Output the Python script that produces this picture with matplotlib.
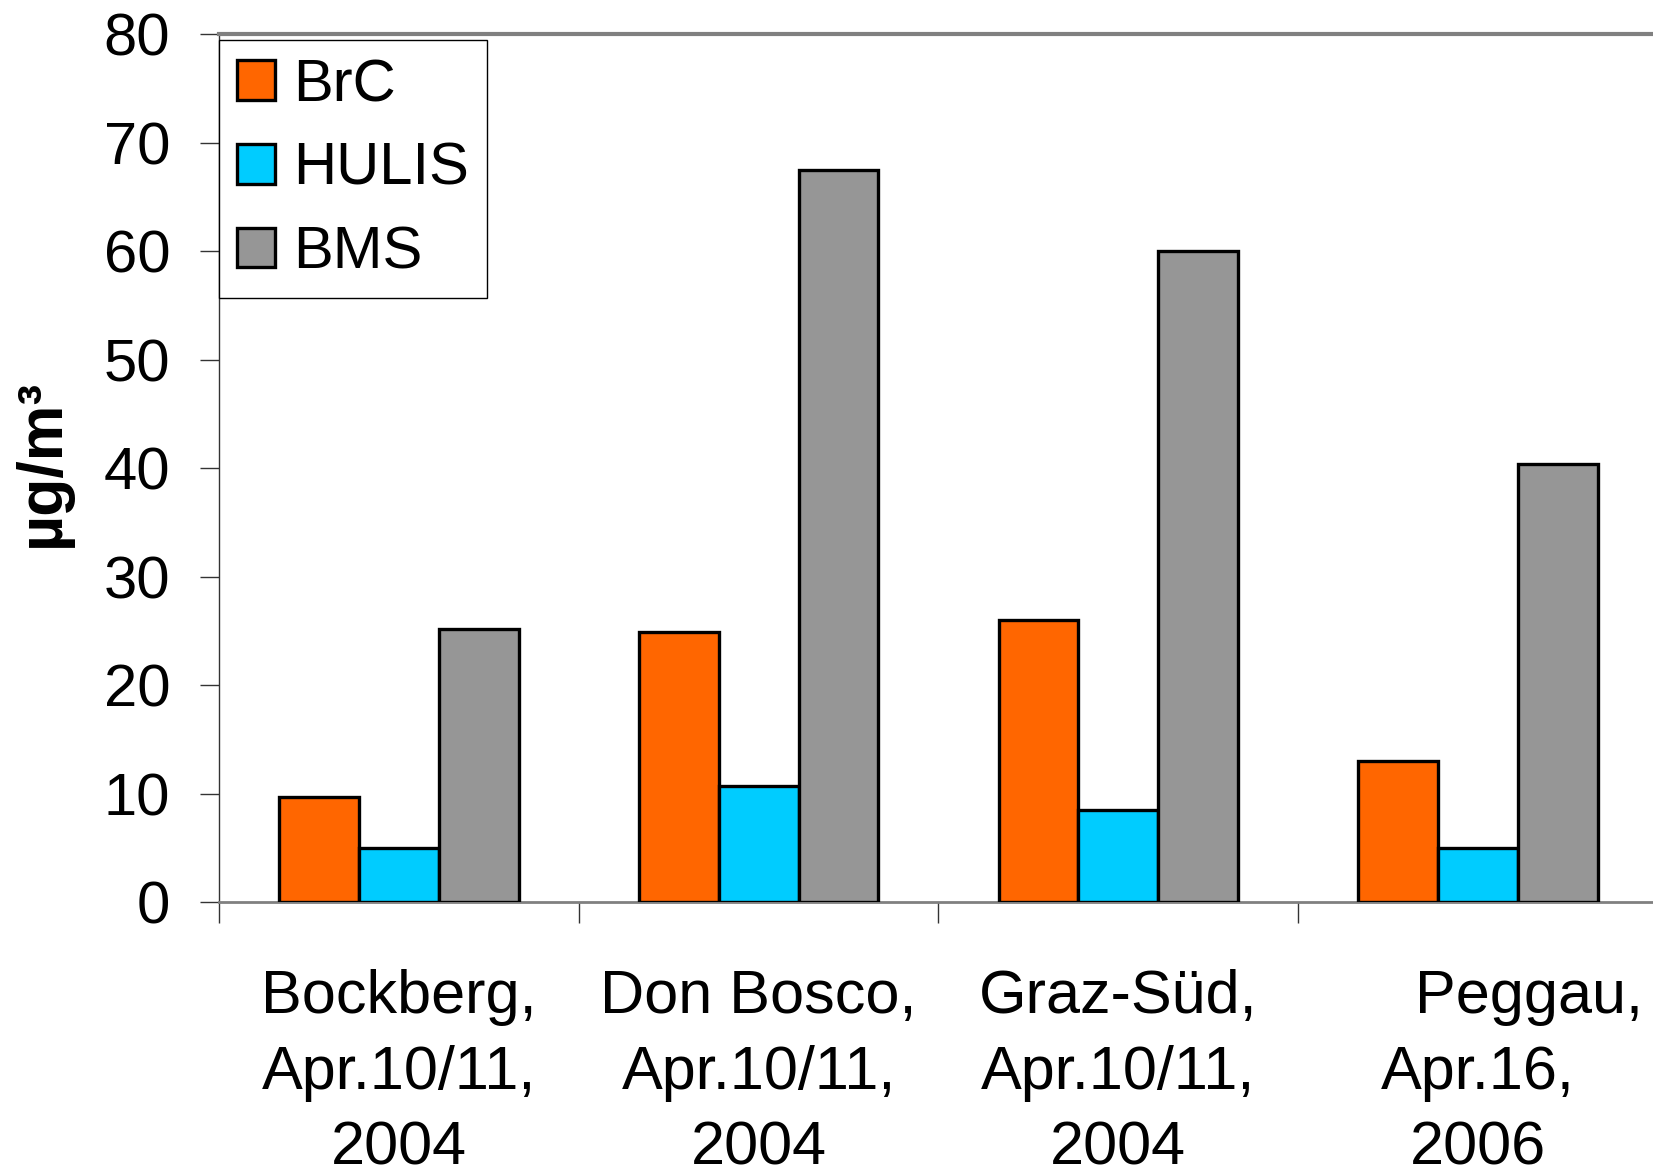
import matplotlib
matplotlib.use("Agg")
import matplotlib.pyplot as plt
import numpy as np

categories = ["Bockberg,\nApr.10/11,\n2004",
              "Don Bosco,\nApr.10/11,\n2004",
              "Graz-Süd,\nApr.10/11,\n2004",
              "      Peggau,\nApr.16,\n2006"]
series_names = ["BrC", "HULIS", "BMS"]
brc = [9.7, 24.9, 26.0, 13.0]
hulis = [5.0, 10.7, 8.5, 5.0]
bms = [25.2, 67.5, 60.0, 40.4]
yticks = [0, 10, 20, 30, 40, 50, 60, 70, 80]
colors = ["#FF6600", "#00CCFF", "#969696"]

plt.rcParams['font.family'] = ['Liberation Sans', 'DejaVu Sans']

fig = plt.figure(figsize=(16.53, 11.76), dpi=100)
ax = fig.add_axes([0.1325, 0.233, 0.8705, 0.738])

x = np.arange(len(categories))
w = 0.222
for i, (vals, name, c) in enumerate(zip([brc, hulis, bms], series_names, colors)):
    ax.bar(x + (i - 1) * w, vals, width=w, color=c, edgecolor="black",
           linewidth=2.4, label=name, zorder=3)

ax.set_xlim(-0.5, 3.5)
ax.set_ylim(0, 80)
ax.set_yticks(yticks)
ax.set_yticklabels([str(t) for t in yticks], fontsize=43)
ax.tick_params(axis='y', direction='out', length=14, width=1, color='#333333', pad=21)

ax.set_xticks(x)
ax.set_xticklabels(categories, fontsize=44, linespacing=1.43)
ax.tick_params(axis='x', which='major', length=0, pad=48)
ax.set_xticks(np.arange(-0.5, 4.0, 1.0), minor=True)
ax.tick_params(axis='x', which='minor', direction='out', length=15, width=1, color='#333333')

ax.spines['right'].set_visible(False)
ax.spines['top'].set_color('#808080')
ax.spines['top'].set_linewidth(3)
ax.spines['bottom'].set_color('#808080')
ax.spines['bottom'].set_linewidth(2)
ax.spines['left'].set_color('#333333')
ax.spines['left'].set_linewidth(1)

ax.set_ylabel("µg/m³", fontsize=45, fontweight='bold')
ax.yaxis.set_label_coords(-0.102, 0.506)

leg = ax.legend(loc='upper left', bbox_to_anchor=(0.0, 0.993), borderaxespad=0,
                fontsize=43, frameon=True, fancybox=False, framealpha=1,
                edgecolor='black', handlelength=0.64, handleheight=0.64,
                handletextpad=0.3, labelspacing=0.48, borderpad=0.3)
leg.get_frame().set_linewidth(1)

fig.savefig("out.png", dpi=100)
